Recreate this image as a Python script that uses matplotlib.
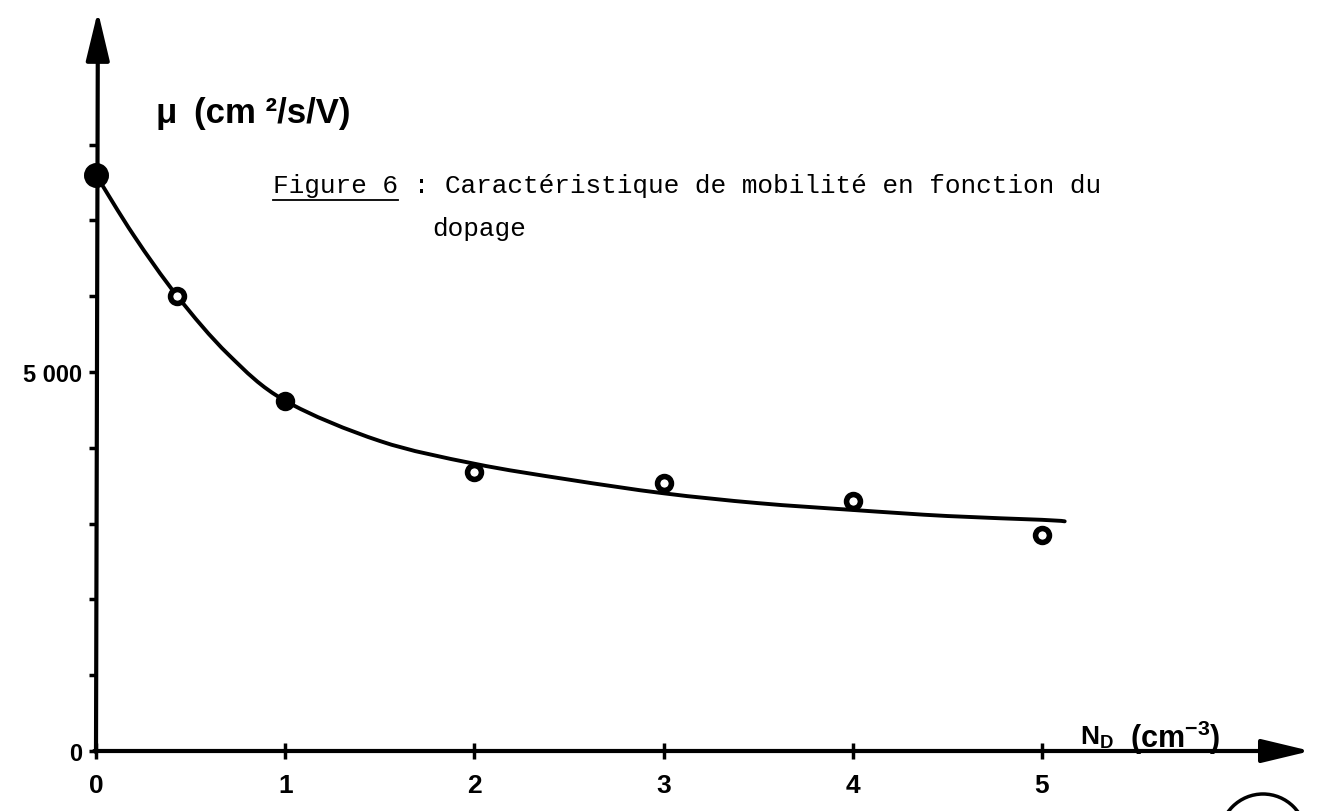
import numpy as np
import matplotlib.pyplot as plt
from matplotlib.patches import Circle, PathPatch
from matplotlib.path import Path

plt.rcParams['font.family'] = ['Liberation Sans', 'DejaVu Sans']
plt.rcParams['mathtext.default'] = 'regular'

# measured mobility vs doping
nd_pts = [0.0, 0.43, 1.0, 2.0, 3.0, 4.0, 5.0]
mu_pts = [7600, 6000, 4620, 3680, 3540, 3300, 2850]
filled = [True, False, True, False, False, False, False]

# hand-drawn fit curve
nd_fit = [0.0, 0.2, 0.43, 0.7, 1.0, 1.5, 2.0, 2.5, 3.0, 3.5, 4.0, 4.5, 5.0, 5.12]
mu_fit = [7600, 6800, 6000, 5230, 4620, 4090, 3790, 3580, 3400, 3270, 3180, 3100, 3050, 3030]

xticks = [0, 1, 2, 3, 4, 5]
yticks = [0, 1000, 2000, 3000, 4000, 5000, 6000, 7000, 8000]
ylabels = ['0', '', '', '', '', '5 000', '', '', '']


def smooth_path(xs, ys, ax):
    # catmull-rom through the points, done in pixel space so the curve looks even
    pts = ax.transData.transform(np.column_stack([xs, ys]))
    verts = [pts[0]]
    codes = [Path.MOVETO]
    n = len(pts)
    for i in range(n - 1):
        p0 = pts[max(i - 1, 0)]
        p1 = pts[i]
        p2 = pts[i + 1]
        p3 = pts[min(i + 2, n - 1)]
        c1 = p1 + (p2 - p0) / 6
        c2 = p2 - (p3 - p1) / 6
        verts += [c1, c2, p2]
        codes += [Path.CURVE4] * 3
    verts = ax.transData.inverted().transform(np.array(verts))
    return Path(verts, codes)


W, H = 1318, 812
fig = plt.figure(figsize=(W / 100, H / 100), dpi=100)
ax = fig.add_axes([96 / W, 60 / H, 6.45 * 189.2 / W, 9.8 * 75.8 / H])
ax.set_xlim(0, 6.45)
ax.set_ylim(0, 9800)
for s in ax.spines.values():
    s.set_visible(False)

# axes drawn as arrows
arr = dict(arrowstyle='-|>,head_length=1.25,head_width=0.3', lw=3, color='black',
           mutation_scale=24, shrinkA=0, shrinkB=0)
ax.annotate('', xy=(6.42, 0), xytext=(-0.01, 0), arrowprops=arr, annotation_clip=False)
ax.annotate('', xy=(0.01, 9760), xytext=(0, -15), arrowprops=arr, annotation_clip=False)

ax.set_xticks(xticks)
ax.set_yticks(yticks)
ax.set_yticklabels(ylabels)
ax.tick_params(axis='x', direction='inout', length=11, width=2.5, pad=10, labelsize=19)
ax.tick_params(axis='y', direction='out', length=5, width=2.5, pad=5, labelsize=17)
for t in ax.get_xticklabels() + ax.get_yticklabels():
    t.set_fontweight('bold')

ax.add_patch(PathPatch(smooth_path(nd_fit, mu_fit, ax), fill=False, lw=2.8,
                       ec='black', capstyle='round', zorder=3))
for x, y, f in zip(nd_pts, mu_pts, filled):
    ax.plot(x, y, 'o', ms=14 if x == 0 else 10, mec='black', mew=4,
            mfc='black' if f else 'white', zorder=4, clip_on=False)

# axis titles
fig.text(155 / W, 1 - 114 / H, 'μ', fontsize=25, fontweight='bold', va='center')
fig.text(194 / W, 1 - 114 / H, '(cm ²/s/V)', fontsize=25, fontweight='bold', va='center')
fig.text(1080 / W, 1 - 738 / H, r'N$_{D}$', fontsize=19, fontweight='bold', va='center')
fig.text(1130 / W, 1 - 738 / H, r'(cm$^{-3}$)', fontsize=22, fontweight='bold', va='center')

# caption, typewriter style
cap = fig.text(273 / W, 1 - 193 / H, 'Figure 6 : Caractéristique de mobilité en fonction du',
               family='Liberation Mono', fontsize=18.8, va='baseline')
fig.text(432 / W, 1 - 236 / H, 'dopage', family='Liberation Mono', fontsize=18.8, va='baseline')
fig.canvas.draw()
lab = fig.text(273 / W, 1 - 193 / H, 'Figure 6', family='Liberation Mono', fontsize=18.8,
               va='baseline', alpha=0)
bb = lab.get_window_extent(fig.canvas.get_renderer())
fig.add_artist(plt.Line2D([bb.x0 / W, bb.x1 / W], [1 - 201 / H, 1 - 201 / H],
                          transform=fig.transFigure, color='black', lw=1.3))

# circled page mark at the corner
fig.add_artist(Circle((12.63, -0.26), 0.43, transform=fig.dpi_scale_trans,
                      fill=False, lw=2.5, color='black'))

fig.savefig('out.png', dpi=100)
